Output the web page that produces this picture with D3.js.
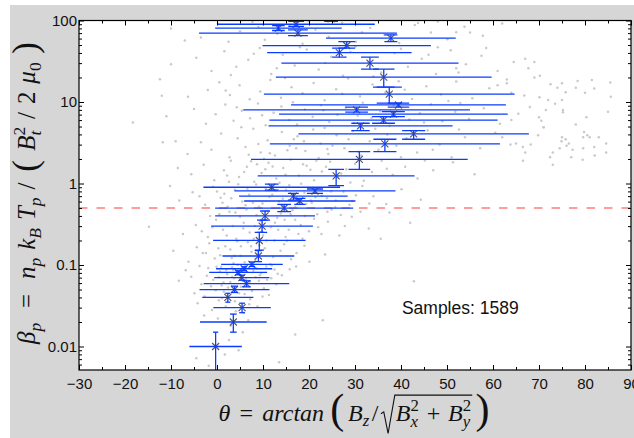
<!DOCTYPE html>
<html>
<head>
<meta charset="utf-8">
<script src="https://cdn.jsdelivr.net/npm/d3@7"></script>
<style>
  body { margin: 0; background: #fff; }
  .tick text { font-family: "Liberation Sans", Arial, sans-serif; font-size: 15px; fill: #111; }
  .math text { font-family: "Liberation Serif", "DejaVu Serif", serif; fill: #111; }
</style>
</head>
<body>
<div id="chart"></div>
<script>
// ---- data ----
const thetaTicks = [-30, -20, -10, 0, 10, 20, 30, 40, 50, 60, 70, 80, 90];
const betaTicks = [0.01, 0.1, 1, 10, 100];
const betaTickLabels = ["0.01", "0.1", "1", "10", "100"];
const sampleCount = 1589;
const betaThreshold = 0.5;

// binned medians: theta, beta, horizontal half-error, vertical low/high
const binTheta    = [-0.3, 3.55, 5.45, 2.35, 3.8, 6.4, 5.4, 4.6, 5.9, 7.6, 9.0, 9.2, 9.8, 10.45, 14.6, 18.0, 16.6, 21.3, 11.9, 25.9, 30.95, 36.5, 42.75, 31.2, 36.2, 38.35, 30.35, 39.45, 37.45, 36.25, 33.25, 26.6, 28.2, 37.8, 17.6, 13.35, 17.2, 24.8];
const binBeta     = [0.010, 0.020, 0.030, 0.040, 0.050, 0.059, 0.070, 0.081, 0.090, 0.102, 0.129, 0.20, 0.30, 0.40, 0.50, 0.61, 0.70, 0.81, 0.90, 1.24, 1.98, 3.06, 4.06, 5.1, 6.0, 7.1, 8.0, 9.2, 12.5, 20.2, 30, 40.4, 49.3, 60.8, 70, 80.7, 90, 105];
const binThetaErr = [5.7, 7.25, 6.25, 5.55, 7.6, 9.3, 6.0, 6.3, 6.1, 6.7, 7.8, 10.05, 11.05, 10.85, 15.0, 12.1, 11.8, 17.5, 14.85, 17.05, 23.55, 25.0, 25.05, 20.0, 24.8, 24.85, 24.65, 23.35, 27.25, 23.45, 19.25, 15.7, 18.3, 14.1, 21.5, 13.75, 17.1, 15.0];
const binBetaLow  = [0.005, 0.015, 0.026, 0.035, 0.046, 0.054, 0.065, 0.076, 0.085, 0.096, 0.110, 0.152, 0.251, 0.356, 0.451, 0.555, 0.627, 0.758, 0.83, 0.94, 1.49, 2.46, 3.49, 4.45, 5.49, 6.62, 7.50, 8.63, 9.67, 15.2, 25.3, 35.5, 45.8, 55.2, 65.4, 75.4, 84.7, 97.5];
const binBetaHigh = [0.015, 0.025, 0.034, 0.045, 0.055, 0.064, 0.075, 0.085, 0.095, 0.109, 0.150, 0.251, 0.356, 0.46, 0.555, 0.658, 0.758, 0.856, 0.98, 1.49, 2.46, 3.49, 4.45, 5.49, 6.62, 7.62, 8.63, 9.67, 15.2, 25.3, 35.5, 45.8, 55.2, 66.7, 76.9, 86.8, 97.5, 113];

// individual samples [theta, beta] (a hand-read subset of the grey cloud)
const samples = [
  [-4.2,0.034],[1.5,0.047],[6.8,0.021],[2.9,0.062],[-1.3,0.055],[8.4,0.071],[4.1,0.027],[0.6,0.083],[10.2,0.052],[-2.7,0.041],[3.3,0.094],[7.2,0.038],[5.6,0.015],[-0.8,0.066],[12.5,0.088],[1.9,0.031],[9.1,0.064],[-5.6,0.072],[4.8,0.045],[2.2,0.077],[6.1,0.098],[-3.4,0.058],[11.3,0.043],[0.2,0.022],[7.9,0.085],[3.7,0.069],[-1.9,0.092],[5.2,0.054],[14.1,0.075],[1.1,0.039],[8.8,0.031],[-6.8,0.086],[2.6,0.012],[4.4,0.081],[10.7,0.096],[-0.3,0.049],[6.5,0.057],[3.0,0.018],[-2.2,0.074],[9.6,0.079],[1.4,0.061],[5.9,0.026],[12.9,0.058],[-4.9,0.045],[7.6,0.048],[0.9,0.095],[3.9,0.036],[15.8,0.089],[-1.1,0.028],[6.3,0.067],[2.4,0.053],[8.1,0.093],[4.7,0.009],[-3.8,0.097],[11.8,0.069],[0.4,0.071],[5.4,0.084],[-8.3,0.064],[17.2,0.096],[1.7,0.008],[9.9,0.041],[-2.8,0.024],[3.5,0.087],[7.1,0.062],[-4.5,0.0072],[-1.8,0.0058],[13.5,0.0064],[17.0,0.014],[42.8,0.063],[23.0,0.021],
  [3.3,0.072],[6.0,0.044],[8.6,0.091],[1.0,0.056],[10.9,0.066],[4.5,0.1],[13.2,0.078],[7.0,0.033],[-0.1,0.095],[2.0,0.087],[9.3,0.075],[5.0,0.068],[11.9,0.099],[0.4,0.037],[3.9,0.052],
  [-6.2,0.11],[-3.1,0.14],[-0.5,0.12],[1.8,0.17],[3.6,0.105],[5.1,0.13],[6.7,0.19],[8.3,0.115],[10.4,0.16],[12.2,0.125],[14.6,0.18],[17.3,0.14],[20.1,0.11],[-1.7,0.185],[2.9,0.155],[4.4,0.195],[7.5,0.145],[9.2,0.175],[11.6,0.102],[13.8,0.15],[16.1,0.118],[0.7,0.132],[-4.4,0.165],[6.0,0.108],[19.0,0.172],[23.5,0.135],[-9.5,0.15],[3.2,0.122],[8.9,0.138],[15.2,0.198],
  [-7.4,0.24],[-4.6,0.31],[-2.0,0.22],[-0.2,0.36],[1.3,0.27],[2.7,0.45],[4.2,0.21],[5.8,0.33],[7.1,0.25],[8.6,0.41],[10.0,0.23],[11.7,0.29],[13.1,0.38],[14.9,0.22],[16.4,0.47],[18.2,0.31],[20.0,0.26],[21.8,0.42],[24.1,0.34],[26.6,0.23],[29.3,0.39],[33.0,0.28],[37.5,0.44],[42.0,0.33],[-14.8,0.295],[3.4,0.3],[6.4,0.48],[9.4,0.35],[12.5,0.2],[15.6,0.27],[19.1,0.4],[22.7,0.24],[0.5,0.42],[-3.3,0.26],[5.0,0.39],[8.0,0.21],[11.0,0.46],[17.0,0.36],[27.8,0.3],[31.2,0.45],[-1.0,0.29],[13.9,0.43],[24.9,0.48],[35.6,0.21],
  [-8.2,0.62],[-5.3,0.78],[-2.6,0.55],[-0.9,0.91],[0.8,0.67],[2.3,0.52],[3.9,0.84],[5.5,0.6],[7.0,0.73],[8.5,0.97],[9.9,0.57],[11.4,0.69],[12.8,0.82],[14.2,0.53],[15.7,0.95],[17.4,0.64],[19.0,0.77],[20.6,0.58],[22.3,0.88],[23.9,0.66],[25.7,0.51],[27.5,0.79],[29.4,0.61],[31.6,0.93],[34.0,0.7],[36.8,0.56],[40.1,0.85],[44.3,0.63],[-10.2,0.93],[1.6,0.75],[4.6,0.98],[6.2,0.54],[10.6,0.87],[13.5,0.6],[16.6,0.72],[18.3,0.99],[21.4,0.68],[26.4,0.92],[30.2,0.72],[33.1,0.57],[-3.8,0.7],[24.8,0.8],
  [0.3,0.16],[2.1,0.23],[3.8,0.13],[5.7,0.28],[7.4,0.17],[9.1,0.52],[10.8,0.2],[12.6,0.33],[14.3,0.65],[16.0,0.42],[17.7,0.24],[19.4,0.56],[21.1,0.37],[22.8,0.71],[1.2,0.58],[4.0,0.44],[6.6,0.86],[8.2,0.3],[11.9,0.5],[13.3,0.27],[15.0,0.84],[18.6,0.21],[20.4,0.62],[24.0,0.45],[25.8,0.62],[-1.5,0.4],[-2.4,0.14],[0.0,0.8],[3.1,0.66],[5.2,0.17],[7.8,0.58],[9.7,0.26],[12.0,0.73],[14.7,0.36],[17.0,0.52],[19.9,0.89],[22.0,0.29],[26.9,0.41],[28.8,0.55],
  [2.6,1.05],[5.9,1.38],[8.7,1.72],[11.5,2.35],[14.9,1.28],[17.2,2.7],[20.3,1.47],[22.1,2.05],[25.1,2.9],[27.0,1.33],[30.8,2.45],[6.9,2.25],[9.0,3.05],[12.1,1.62],[15.3,2.55],[18.9,3.3],[21.6,1.9],[24.0,2.65],
  [-5.6,1.3],[-2.9,1.7],[-0.6,1.1],[1.5,1.45],[3.0,1.9],[4.8,1.2],[6.5,1.6],[8.1,1.05],[9.7,1.35],[11.2,1.8],[12.9,1.15],[14.4,1.55],[16.0,1.95],[17.8,1.25],[19.5,1.65],[21.1,1.1],[22.8,1.4],[24.6,1.85],[26.3,1.2],[28.1,1.5],[30.0,1.75],[31.9,1.08],[33.7,1.38],[35.8,1.9],[38.2,1.28],[40.9,1.6],[43.6,1.15],[47.0,1.45],[51.3,1.82],[56.0,1.3],[2.2,1.25],[7.4,1.88],[10.5,1.5],[13.6,1.02],[18.7,1.72],[23.7,1.6],[29.0,1.03],[36.9,1.52],[45.2,1.92],[-8.5,1.55],[66.5,1.9],[73.0,1.7],[79.5,1.95],
  [-6.4,2.3],[-3.5,3.2],[-1.2,2.6],[0.9,4.1],[2.7,2.1],[4.5,3.6],[6.2,2.8],[7.9,4.7],[9.5,2.4],[11.0,3.4],[12.6,2.2],[14.1,4.3],[15.8,2.9],[17.5,3.8],[19.2,2.5],[20.9,4.6],[22.5,3.1],[24.2,2.3],[26.0,3.9],[27.7,2.7],[29.5,4.4],[31.3,2.2],[33.2,3.3],[35.1,2.6],[37.0,4.0],[39.0,2.9],[41.2,3.6],[43.5,2.4],[45.8,4.5],[48.4,3.0],[51.0,2.1],[53.9,3.7],[57.2,2.7],[60.5,4.2],[63.8,3.0],[-11.8,3.2],[-9.0,3.3],[5.3,4.9],[10.2,2.0],[16.7,3.5],[23.4,4.8],[28.6,3.5],[34.4,4.7],[40.0,2.1],[46.9,2.6],[52.6,4.6],[67.0,2.4],[69.8,3.9],[72.4,2.1],[74.9,3.3],[77.3,2.6],[79.8,4.3],[82.1,2.2],[84.6,3.1],[71.0,4.9],[76.0,2.9],[81.0,3.7],[68.2,3.0],
  [-18.3,5.6],[-11.0,6.7],[-5.0,8.2],[-2.4,5.4],[-0.3,7.1],[1.8,9.3],[3.6,5.9],[5.4,7.8],[7.2,6.3],[8.9,9.6],[10.6,5.2],[12.3,7.4],[14.0,8.8],[15.7,6.0],[17.4,5.3],[19.1,8.1],[20.8,6.6],[22.6,9.1],[24.4,5.7],[26.2,7.0],[28.0,8.5],[29.8,5.5],[31.7,9.8],[33.6,6.4],[35.5,7.7],[37.5,5.1],[39.6,8.9],[41.8,6.1],[44.1,7.3],[46.5,9.4],[49.0,5.8],[51.8,7.6],[54.8,6.2],[58.0,8.4],[61.5,5.4],[4.3,8.6],[9.8,6.9],[16.5,9.9],[23.1,7.9],[30.6,6.8],[38.4,9.2],[45.0,5.6],[52.9,9.7],[65.5,7.2],[70.5,5.9],[75.2,8.0],[80.3,6.5],[85.0,7.6],[73.5,9.5],[78.0,5.3],
  [75,3.7],[75.8,3.5],[76.5,3.1],[79.6,3.7],[80.5,3.9],[83,3.7],[84.6,2.4],[73,2.4],[74.5,2.7],[77,2.1],[79.6,2.7],[82,2.8],[71,4.9],[71.5,8],[75,10.6],[75.2,7.5],[65,3.1],[66.5,2.8],[68,8.7],[64,6],[70,6.5],[62,3.7],
  [-12.4,19],[-12.0,11.9],[-6.3,11.6],[-2.0,14],[0.5,17.5],[2.8,12.2],[4.9,16],[7.1,10.8],[9.4,13.5],[11.6,18.6],[13.9,11.3],[16.2,15.2],[18.6,12.8],[21.0,17.1],[23.4,10.5],[25.9,14.3],[28.5,19.4],[31.1,11.7],[33.8,16.4],[36.6,13.1],[39.5,18.0],[42.4,10.9],[45.5,15.6],[48.7,12.4],[52.0,17.8],[55.5,11.1],[59.2,14.8],[63.0,18.9],[66.8,12.0],[72.5,16.5],[75.8,13.2],[78.4,18.1],[82.0,14.6],[85.5,17.3],[70.1,11.4],[1.9,13.8],[14.8,19.7],[27.2,12.6],[40.8,14.1],[50.3,10.3],[61.0,16.0],
  [63,17],[64,13],[74,15],[75,17],[78,15],[81.5,18.6],[85.6,11.6],[80,13],[69,20],[72,10.6],
  [-10.0,29],[-4.5,35],[-1.2,24],[1.6,42],[4.2,27],[6.8,33],[9.3,46],[11.8,22],[14.3,38],[16.9,28],[19.5,44],[22.1,25],[24.8,36],[27.4,21],[30.1,48],[32.9,31],[35.7,23],[38.6,40],[41.5,27],[44.5,34],[47.6,22],[50.8,43],[54.1,29],[57.5,37],[61.0,24],[64.5,31],[67.7,26],[70.2,21],[3.0,21.5],[8.0,39],[13.0,26],[18.0,47],[23.5,30],[29.0,41],[34.0,20.5],[40.0,45],[46.0,38],[52.5,23],[58.5,46],[48,47],[52,26],[67,34],[69,31],
  [-10.0,80],[-3.5,62],[0.2,91],[2.5,55],[5.0,74],[7.7,96],[10.4,58],[13.1,69],[15.8,86],[18.6,52],[21.4,77],[24.3,63],[27.2,94],[30.2,55],[33.3,81],[36.4,67],[39.6,53],[43.0,88],[46.5,71],[50.1,59],[53.8,84],[57.8,65],[62.0,92],[9.0,83],[20.0,98],[31.5,72],[48.0,97],[-7.0,57],[43.7,93],[52,72],[55,71]
];

// ---- layout ----
const W = 634, H = 438;
const plot = {left: 79, top: 20.5, right: 631, bottom: 370};

const x = d3.scaleLinear().domain([-30, 90]).range([plot.left, plot.right]);
const y = d3.scaleLog().domain([0.00515, 100]).range([plot.bottom, plot.top]);

const svg = d3.select("#chart").append("svg")
    .attr("width", W).attr("height", H);

// figure background
svg.append("rect").attr("x", 10).attr("y", 5)
    .attr("width", W - 10).attr("height", H - 5).attr("fill", "#d6d6d6");
svg.append("rect").attr("x", plot.left).attr("y", plot.top)
    .attr("width", plot.right - plot.left).attr("height", plot.bottom - plot.top)
    .attr("fill", "#fff");

svg.append("defs").append("clipPath").attr("id", "clip")
    .append("rect").attr("x", plot.left).attr("y", plot.top)
    .attr("width", plot.right - plot.left).attr("height", plot.bottom - plot.top);

const inner = svg.append("g").attr("clip-path", "url(#clip)");

// grey sample cloud
inner.selectAll(".sample")
    .data(samples)
    .enter().append("circle")
    .attr("class", "sample")
    .attr("cx", d => x(d[0]))
    .attr("cy", d => y(d[1]))
    .attr("r", 1.25)
    .attr("fill", "#c9c9c9");

// threshold line
inner.append("line")
    .attr("x1", plot.left).attr("x2", plot.right)
    .attr("y1", y(betaThreshold)).attr("y2", y(betaThreshold))
    .attr("stroke", "#ff9c9c").attr("stroke-width", 2)
    .attr("stroke-dasharray", "8.5,9");

// binned points
const bins = binTheta.map((t, i) => ({
    theta: t, beta: binBeta[i], err: binThetaErr[i], lo: binBetaLow[i], hi: binBetaHigh[i]
}));

const blue = "#0a3cff";

inner.selectAll(".marker")
    .data(bins)
    .enter().append("path")
    .attr("class", "marker")
    .attr("transform", d => "translate(" + x(d.theta) + "," + y(d.beta) + ")")
    .attr("d", "M-3.5,-3.5L3.5,3.5M-3.5,3.5L3.5,-3.5")
    .attr("stroke", "#5a5a66").attr("stroke-width", 1.2).attr("fill", "none");

const eb = inner.selectAll(".ebar")
    .data(bins)
    .enter().append("g").attr("class", "ebar")
    .attr("stroke", blue).attr("stroke-width", 1.3);

// horizontal error
eb.append("line")
    .attr("x1", d => x(d.theta - d.err)).attr("x2", d => x(d.theta + d.err))
    .attr("y1", d => y(d.beta)).attr("y2", d => y(d.beta));
// vertical error
eb.append("line")
    .attr("x1", d => x(d.theta)).attr("x2", d => x(d.theta))
    .attr("y1", d => y(d.lo)).attr("y2", d => y(d.hi));
// caps, width tied to the horizontal error
[d => d.lo, d => d.hi].forEach(f => {
    eb.append("line")
        .attr("x1", d => x(d.theta) - 0.1 * (x(d.theta + d.err) - x(d.theta)))
        .attr("x2", d => x(d.theta) + 0.1 * (x(d.theta + d.err) - x(d.theta)))
        .attr("y1", d => y(f(d))).attr("y2", d => y(f(d)));
});

// ---- axes ----
const minorX = d3.range(-25, 90, 10);
const minorY = [];
for (let e = -3; e <= 1; e++) {
    for (let k = 2; k <= 9; k++) {
        const v = k * Math.pow(10, e);
        if (v > y.domain()[0] && v < y.domain()[1]) minorY.push(v);
    }
}

function styleAxis(g) {
    g.select(".domain").remove();
    g.selectAll(".tick line").attr("stroke", "#000");
}

svg.append("g").attr("transform", "translate(0," + plot.bottom + ")")
    .call(d3.axisBottom(x).tickValues(thetaTicks).tickFormat(d3.format("d"))
        .tickSizeInner(-5).tickSizeOuter(0).tickPadding(8))
    .call(styleAxis);
svg.append("g").attr("transform", "translate(0," + plot.bottom + ")")
    .call(d3.axisBottom(x).tickValues(minorX).tickFormat("").tickSizeInner(-3).tickSizeOuter(0))
    .call(styleAxis);
svg.append("g").attr("transform", "translate(0," + plot.top + ")")
    .call(d3.axisTop(x).tickValues(thetaTicks).tickFormat("").tickSizeInner(-5).tickSizeOuter(0))
    .call(styleAxis);
svg.append("g").attr("transform", "translate(0," + plot.top + ")")
    .call(d3.axisTop(x).tickValues(minorX).tickFormat("").tickSizeInner(-3).tickSizeOuter(0))
    .call(styleAxis);

svg.append("g").attr("transform", "translate(" + plot.left + ",0)")
    .call(d3.axisLeft(y).tickValues(betaTicks).tickFormat((d, i) => betaTickLabels[i])
        .tickSizeInner(-5).tickSizeOuter(0).tickPadding(2))
    .call(styleAxis);
svg.append("g").attr("transform", "translate(" + plot.left + ",0)")
    .call(d3.axisLeft(y).tickValues(minorY).tickFormat("").tickSizeInner(-3).tickSizeOuter(0))
    .call(styleAxis);
svg.append("g").attr("transform", "translate(" + plot.right + ",0)")
    .call(d3.axisRight(y).tickValues(betaTicks).tickFormat("").tickSizeInner(-5).tickSizeOuter(0))
    .call(styleAxis);
svg.append("g").attr("transform", "translate(" + plot.right + ",0)")
    .call(d3.axisRight(y).tickValues(minorY).tickFormat("").tickSizeInner(-3).tickSizeOuter(0))
    .call(styleAxis);

// frame
svg.append("rect").attr("x", plot.left).attr("y", plot.top)
    .attr("width", plot.right - plot.left).attr("height", plot.bottom - plot.top)
    .attr("fill", "none").attr("stroke", "#000").attr("stroke-width", 1.2);

// sample count
svg.append("text")
    .attr("x", x(40.2)).attr("y", y(0.0249))
    .style("font-family", "'Liberation Sans', Arial, sans-serif")
    .style("font-size", "17.5px").attr("fill", "#111")
    .text("Samples: " + sampleCount);

// ---- math labels ----
// lays items out left to right; scripts (s < 1) stay attached to their base,
// every other item gets `extra` px in front of it. returns [width, gaps]
function mathText(g, items, fs, extra) {
    let cx = 0, kept = 0, n = 0;
    items.forEach((it, i) => {
        const attached = it.s && it.s < 1;
        if (i > 0 && !attached && kept === 0) { cx += extra; n += 1; }
        if (it.root) {
            const x0 = cx + (it.pre || 0) * fs;
            const sub = g.append("g").attr("transform", "translate(" + (x0 + fs * 0.62) + ",0)");
            const r = mathText(sub, it.root, fs, extra);
            const x1 = x0 + fs * 0.62 + r[0] + fs * 0.05;
            g.append("path").attr("fill", "none").attr("stroke", "#111").attr("stroke-width", 1.1)
                .attr("d", "M" + x0 + "," + (-fs * 0.3) + "L" + (x0 + fs * 0.12) + "," + (-fs * 0.38) +
                    "L" + (x0 + fs * 0.3) + "," + (fs * 0.52) + "L" + (x0 + fs * 0.58) + "," + (-fs * 1.08) +
                    "H" + x1);
            cx = x1;
            n += r[1];
            return;
        }
        cx += (it.pre || 0) * fs;
        const t = g.append("text").attr("x", cx).attr("y", (it.dy || 0) * fs)
            .style("font-size", (it.s || 1) * fs + "px")
            .style("font-style", it.r ? "normal" : "italic")
            .text(it.t);
        const w = t.node().getComputedTextLength();
        if (it.keep) { kept = w; return; }
        cx += Math.max(w, kept) + (it.gap || 0) * fs;
        kept = 0;
    });
    return [cx, n];
}

// draws a label spread to a target length without changing its glyph size
function spreadLabel(items, fs, length) {
    const g = svg.append("g").attr("class", "math");
    const probe = g.append("g");
    const r = mathText(probe, items, fs, 0);
    probe.remove();
    const extra = Math.max(0, (length - r[0]) / Math.max(1, r[1]));
    mathText(g.append("g"), items, fs, extra);
    return g;
}

const xLabelItems = [
    {t: "θ"}, {t: "=", r: 1, pre: 0.28, gap: 0.28}, {t: "arctan", gap: 0.15},
    {t: "(", r: 1, s: 1.75, dy: 0.1, gap: 0.05},
    {t: "B"}, {t: "z", s: 0.7, dy: 0.22}, {t: "/", r: 1},
    {root: [{t: "B"}, {t: "2", r: 1, s: 0.7, dy: -0.42, keep: 1}, {t: "x", s: 0.7, dy: 0.25},
            {t: "+", r: 1, pre: 0.22, gap: 0.22},
            {t: "B"}, {t: "2", r: 1, s: 0.7, dy: -0.42, keep: 1}, {t: "y", s: 0.7, dy: 0.25}]},
    {t: ")", r: 1, s: 1.75, dy: 0.1, pre: 0.03}
];

const yLabelItems = [
    {t: "β"}, {t: "p", s: 0.7, dy: 0.22}, {t: "=", r: 1, pre: 0.28, gap: 0.28},
    {t: "n"}, {t: "p", s: 0.7, dy: 0.22}, {t: "k"}, {t: "B", s: 0.7, dy: 0.22},
    {t: "T"}, {t: "p", s: 0.7, dy: 0.22}, {t: "/", r: 1, gap: 0.12},
    {t: "(", r: 1, s: 1.4, dy: 0.08, gap: 0.05},
    {t: "B"}, {t: "2", r: 1, s: 0.7, dy: -0.42, keep: 1}, {t: "t", s: 0.7, dy: 0.25},
    {t: "/", r: 1}, {t: "2", r: 1}, {t: "μ"}, {t: "0", r: 1, s: 0.7, dy: 0.22},
    {t: ")", r: 1, s: 1.4, dy: 0.08, pre: 0.03}
];

// x label, centred under the plot
spreadLabel(xLabelItems, 24, 271)
    .attr("transform", "translate(" + (354 - 271 / 2) + ",421)");

// y label, rotated
spreadLabel(yLabelItems, 25, 302)
    .attr("transform", "translate(35," + (193 + 302 / 2) + ") rotate(-90)");
</script>
</body>
</html>
